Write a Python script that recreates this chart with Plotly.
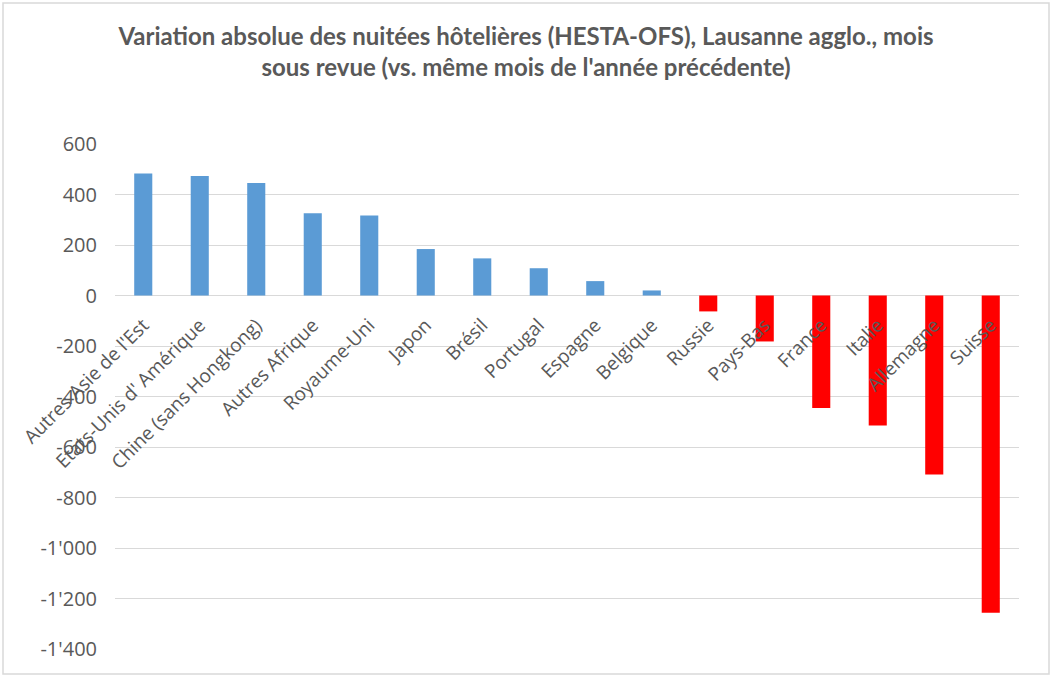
import plotly.graph_objects as go

categories = ["Autres Asie de l'Est", "Etats-Unis d' Amérique", "Chine (sans Hongkong)",
              "Autres Afrique", "Royaume-Uni", "Japon", "Brésil", "Portugal", "Espagne",
              "Belgique", "Russie", "Pays-Bas", "France", "Italie", "Allemagne", "Suisse"]
values = [483, 473, 446, 326, 317, 184, 147, 108, 57, 20, -63, -182, -446, -515, -709, -1256]

tick_vals = [600, 400, 200, 0, -200, -400, -600, -800, -1000, -1200, -1400]
tick_text = ["600", "400", "200", "0", "-200", "-400", "-600", "-800", "-1'000", "-1'200", "-1'400"]

BLUE = "#5B9BD5"
RED = "#FF0000"
GRAY = "#595959"
colors = [BLUE if v >= 0 else RED for v in values]

fig = go.Figure(go.Bar(x=categories, y=values, marker=dict(color=colors, line=dict(width=0)),
                       width=0.32))

W, H = 1052, 677
L, R, T, B = 115, 33, 144, 28

fig.update_layout(
    width=W, height=H,
    margin=dict(l=L, r=R, t=T, b=B),
    paper_bgcolor="white", plot_bgcolor="white",
    showlegend=False,
    title=dict(text="Variation absolue des nuitées hôtelières (HESTA-OFS), Lausanne agglo., mois<br>sous revue (vs. même mois de l'année précédente)",
               x=0.5, xref="container", xanchor="center", y=(H - 45) / H, yanchor="middle",
               font=dict(family="Lato", size=24, color=GRAY, weight="bold")),
    xaxis=dict(type="category", anchor="free", position=0.7, showline=False, ticks="",
               tickangle=-45, tickfont=dict(family="Open Sans", size=19, color=GRAY),
               showgrid=False, zeroline=False, range=[-0.5, 15.5], ticklabelstandoff=14),
    yaxis=dict(range=[-1400, 600], tickvals=tick_vals, ticktext=tick_text,
               tickfont=dict(family="Open Sans", size=20, color=GRAY),
               showgrid=True, gridcolor="#D9D9D9", gridwidth=1,
               zeroline=True, zerolinecolor="#D9D9D9", zerolinewidth=1,
               showline=False, ticks="", ticklabelstandoff=17),
)

# chart-area border
pw, ph = W - L - R, H - T - B
fig.add_shape(type="rect", xref="paper", yref="paper",
              x0=(3 - L) / pw, x1=(W - 3 - L) / pw,
              y0=-(B - 3) / ph, y1=1 + (T - 3) / ph,
              line=dict(color="#D9D9D9", width=1.5), layer="below")

fig.write_html("out.html", post_script="document.body.style.margin='0';",
               config={"displayModeBar": False})
